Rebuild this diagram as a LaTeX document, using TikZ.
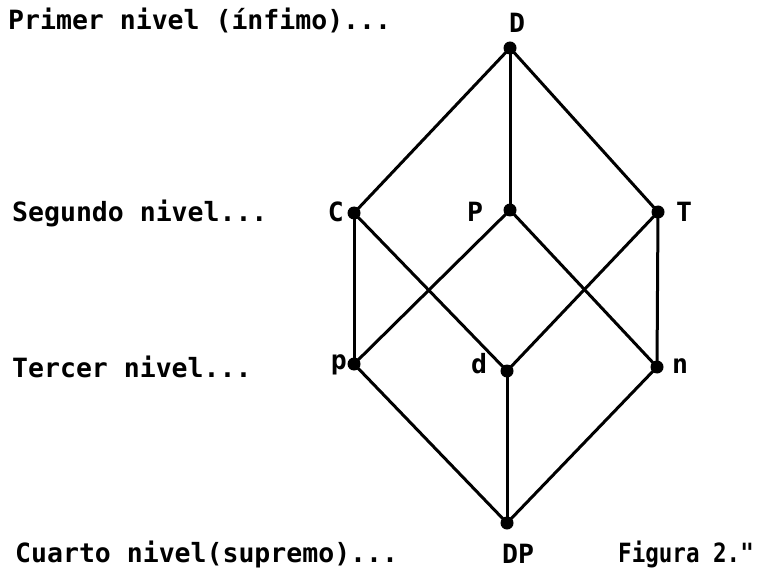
\documentclass[tikz,border=0pt]{standalone}
\usepackage{fontspec}
\setmonofont{DejaVu Sans Mono}
\begin{document}
\begin{tikzpicture}[x=1pt,y=-1pt,
  txt/.style={font=\ttfamily\bfseries\fontsize{26.5}{30}\selectfont, inner sep=0pt},
  lbl/.style={font=\ttfamily\bfseries\fontsize{26.5}{30}\selectfont, inner sep=0pt},
  dot/.style={circle, fill=black, inner sep=0pt, minimum size=13pt},
  edge/.style={line width=3pt, line cap=round}]
\useasboundingbox (0,0) rectangle (773,569);
% level texts
\node[txt, anchor=base west] (l1) at (8,30) {Primer nivel (ínfimo)...};
\node[txt, anchor=base west] (l2) at (12,222) {Segundo nivel...};
\node[txt, anchor=base west] (l3) at (12,377) {Tercer nivel...};
\node[txt, anchor=base west] (l4) at (15,562) {Cuarto nivel(supremo)...};
\node[txt, anchor=base west] (fig) at (618,562) {\scalebox{0.85}[1]{Figura 2."}};
% vertices
\node[dot] (D) at (510,48) {};
\node[dot] (C) at (354,213) {};
\node[dot] (P) at (510,210) {};
\node[dot] (T) at (658,212) {};
\node[dot] (p) at (354,364) {};
\node[dot] (d) at (507,371) {};
\node[dot] (n) at (657,367) {};
\node[dot] (DP) at (507,523) {};
% vertex labels
\node[lbl, anchor=base west] (tD) at (509,33) {D};
\node[lbl, anchor=base east] (tC) at (344,222) {C};
\node[lbl, anchor=base west] (tP) at (467,222) {P};
\node[lbl, anchor=base west] (tT) at (676,222) {T};
\node[lbl, anchor=base east] (tp) at (347,369) {p};
\node[lbl, anchor=base west] (td) at (471,373) {d};
\node[lbl, anchor=base west] (tn) at (672,373) {n};
\node[lbl, anchor=base west] (tDP) at (502,563) {DP};
% edges
\draw[edge] (D.center) -- (C.center);
\draw[edge] (D.center) -- (P.center);
\draw[edge] (D.center) -- (T.center);
\draw[edge] (C.center) -- (p.center);
\draw[edge] (C.center) -- (d.center);
\draw[edge] (P.center) -- (p.center);
\draw[edge] (P.center) -- (n.center);
\draw[edge] (T.center) -- (d.center);
\draw[edge] (T.center) -- (n.center);
\draw[edge] (p.center) -- (DP.center);
\draw[edge] (d.center) -- (DP.center);
\draw[edge] (n.center) -- (DP.center);
\end{tikzpicture}
\end{document}
